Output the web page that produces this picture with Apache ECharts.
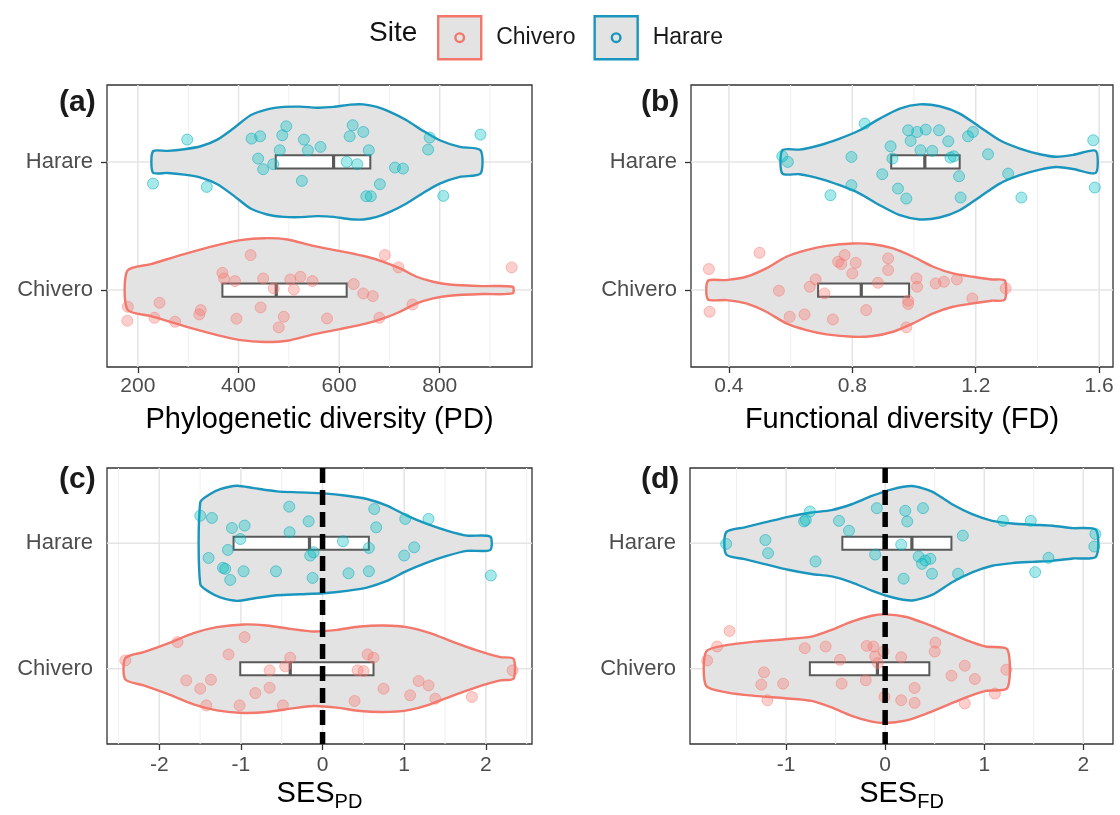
<!DOCTYPE html>
<html><head><meta charset="utf-8">
<script src="https://cdn.jsdelivr.net/npm/echarts@6.0.0/dist/echarts.min.js"></script>
<style>html,body{margin:0;padding:0;background:#fff}#chart{width:1120px;height:815px}</style>
</head><body><div id="chart"></div>
<script>
// ---------- categories ----------
const sites = ['Chivero', 'Harare'];
const siteY = { Chivero: 1, Harare: 2 };

// ---------- tick labels / gridlines ----------
const majA = [200, 400, 600, 800], minA = [300, 500, 700, 900];
const majB = [0.4, 0.8, 1.2, 1.6], minB = [0.6, 1.0, 1.4];
const majC = [-2, -1, 0, 1, 2], minC = [-2.5, -1.5, -0.5, 0.5, 1.5, 2.5];
const majD = [-1, 0, 1, 2], minD = [-1.5, -0.5, 0.5, 1.5];

// ---------- (a) Phylogenetic diversity ----------
const ptsA_C = [[424,1.273],[691,1.273],[943,1.177],[368,1.135],[371,1.091],[393,1.07],[449,1.091],[503,1.083],[523,1.104],[547,1.07],[510,1.005],[470,1.013],[629,1.047],[648,0.974],[667,0.953],[718,1.177],[180,0.87],[243,0.901],[325,0.844],[322,0.81],[179,0.761],[233,0.784],[274,0.753],[396,0.777],[444,0.865],[490,0.792],[480,0.709],[576,0.779],[680,0.784],[746,0.888]];
const ptsA_H = [[298,2.174],[230,1.831],[337,1.805],[426,2.182],[443,2.2],[439,2.026],[449,1.943],[469,1.982],[482,2.091],[487,2.208],[495,2.278],[530,2.174],[538,2.091],[563,2.117],[526,1.852],[621,2.2],[627,2.286],[648,2.234],[659,2.091],[615,2.0],[636,1.982],[681,1.826],[654,1.732],[663,1.732],[711,1.956],[727,1.948],[777,2.096],[780,2.19],[807,1.735],[881,2.213]];
const boxA_C = [368, 475, 615];
const boxA_H = [474, 589, 662];
const vioA_C = [[179,0.151],[226,0.203],[292,0.281],[358,0.351],[404,0.390],[451,0.405],[497,0.395],[549,0.345],[602,0.304],[655,0.260],[688,0.221],[721,0.169],[754,0.104],[787,0.065],[820,0.044],[886,0.031],[945,0.026]];
const vioA_H = [[230,0.083],[259,0.086],[292,0.099],[325,0.122],[358,0.174],[391,0.265],[424,0.364],[457,0.410],[490,0.429],[523,0.431],[556,0.423],[589,0.429],[622,0.447],[648,0.449],[675,0.429],[701,0.390],[734,0.325],[767,0.242],[800,0.169],[840,0.117],[881,0.091]];

// ---------- (b) Functional diversity ----------
const ptsB_C = [[0.499,1.291],[0.335,1.164],[0.337,0.831],[0.562,0.995],[0.597,0.792],[0.645,0.81],[0.681,1.083],[0.662,1.026],[0.710,0.974],[0.737,0.771],[0.754,1.221],[0.764,1.203],[0.775,1.273],[0.811,1.213],[0.800,1.13],[0.845,0.844],[0.883,1.057],[0.916,1.247],[0.916,1.156],[1.008,1.091],[1.010,1.026],[1.070,1.052],[1.097,1.065],[1.139,1.083],[1.189,0.935],[0.981,0.917],[0.981,0.891],[0.975,0.709],[1.297,1.013]];
const ptsB_H = [[0.840,2.299],[0.981,2.247],[1.010,2.234],[1.038,2.252],[1.081,2.247],[0.989,2.164],[0.924,2.122],[1.021,2.091],[1.059,2.086],[1.111,2.161],[1.175,2.2],[1.191,2.234],[1.581,2.169],[1.240,2.06],[0.573,2.044],[0.591,2.0],[0.797,2.039],[0.930,2.026],[1.118,2.034],[1.129,2.044],[1.146,1.888],[0.897,1.904],[0.797,1.818],[0.729,1.74],[0.948,1.792],[0.975,1.714],[1.151,1.722],[1.305,1.909],[1.348,1.722],[1.586,1.8]];
const boxB_C = [0.689, 0.829, 0.984];
const boxB_H = [0.926, 1.035, 1.148];
const vioB_C = [[0.332,0.072],[0.391,0.078],[0.456,0.104],[0.521,0.169],[0.586,0.26],[0.651,0.312],[0.716,0.345],[0.802,0.364],[0.867,0.358],[0.932,0.325],[0.997,0.26],[1.062,0.182],[1.126,0.13],[1.191,0.104],[1.251,0.083],[1.294,0.075]];
const vioB_H = [[0.573,0.091],[0.629,0.096],[0.694,0.13],[0.759,0.182],[0.824,0.247],[0.889,0.338],[0.954,0.416],[1.018,0.449],[1.083,0.434],[1.148,0.377],[1.213,0.273],[1.278,0.169],[1.343,0.104],[1.408,0.06],[1.462,0.04],[1.516,0.055],[1.589,0.086]];

// ---------- (c) SES PD ----------
const ptsC_C = [[-2.416,1.066],[-1.776,1.212],[-1.151,1.114],[-0.955,1.252],[-1.669,0.907],[-1.498,0.841],[-1.367,0.912],[-1.424,0.708],[-1.016,0.708],[-0.824,0.806],[-0.649,0.849],[-0.649,0.987],[-0.457,1.019],[-0.396,1.088],[-0.486,0.708],[0.392,0.743],[0.429,0.987],[0.502,0.981],[0.551,1.114],[0.624,1.088],[0.747,0.841],[1.073,0.788],[1.176,0.902],[1.298,0.867],[1.380,0.761],[1.829,0.775],[2.327,0.987]];
const ptsC_H = [[-1.498,2.22],[-1.355,2.202],[-1.110,2.122],[-0.955,2.141],[-1.008,2.034],[-1.159,1.947],[-1.396,1.883],[-1.220,1.804],[-1.192,1.796],[-1.131,1.708],[-0.967,1.777],[-0.571,1.777],[-0.408,2.292],[-0.404,2.088],[-0.171,2.175],[-0.151,1.902],[-0.110,1.928],[-0.122,1.724],[0.249,2.016],[0.318,1.761],[0.567,1.963],[0.567,1.777],[0.633,2.273],[0.657,2.127],[1.012,2.194],[1.298,2.194],[1.122,1.968],[1.0,1.902],[2.061,1.743]];
const boxC_C = [-1.008, -0.396, 0.624];
const boxC_H = [-1.09, -0.16, 0.567];
const vioC_C = [[-2.416,0.085],[-2.192,0.133],[-1.906,0.199],[-1.58,0.284],[-1.294,0.332],[-0.967,0.353],[-0.682,0.345],[-0.396,0.318],[-0.11,0.297],[0.176,0.31],[0.461,0.337],[0.747,0.345],[1.033,0.332],[1.318,0.284],[1.604,0.212],[1.89,0.146],[2.176,0.093],[2.339,0.078]];
const vioC_H = [[-1.498,0.326],[-1.376,0.393],[-1.253,0.432],[-1.049,0.459],[-0.845,0.44],[-0.559,0.414],[-0.273,0.406],[0.012,0.398],[0.298,0.379],[0.543,0.353],[0.788,0.3],[1.033,0.22],[1.278,0.154],[1.522,0.101],[1.767,0.061],[2.053,0.053]];

// ---------- (d) SES FD ----------
const ptsD_C = [[-1.571,1.301],[-1.696,1.177],[-1.797,1.066],[-1.223,0.971],[-1.25,0.873],[-1.189,0.749],[-1.030,0.881],[-0.811,1.164],[-0.601,1.177],[-0.456,1.071],[-0.439,0.881],[-0.196,0.908],[-0.186,1.182],[-0.118,1.177],[-0.101,1.098],[-0.074,1.045],[-0.017,1.137],[-0.007,0.776],[0.162,1.092],[0.162,0.749],[0.297,0.847],[0.297,0.728],[0.507,1.208],[0.5,1.137],[0.669,0.945],[0.804,1.024],[0.905,0.918],[0.804,0.723],[1.108,0.802],[1.223,0.992]];
const ptsD_H = [[-1.605,1.995],[-1.209,2.026],[-1.182,1.921],[-0.760,2.253],[-0.818,2.174],[-0.801,2.185],[-0.703,1.855],[-0.466,2.179],[-0.365,2.1],[-0.084,2.28],[-0.101,1.91],[0.162,1.989],[0.203,2.259],[0.223,2.174],[0.382,2.28],[0.338,1.894],[0.372,1.836],[0.405,1.863],[0.456,1.876],[0.473,1.757],[0.186,1.718],[0.736,1.757],[0.784,2.061],[1.189,2.179],[1.470,2.179],[1.649,1.884],[1.514,1.77],[2.122,2.074],[2.111,1.974]];
const boxD_C = [-0.760, -0.078, 0.446];
const boxD_H = [-0.432, 0.270, 0.669];
const vioD_C = [[-1.807,0.137],[-1.588,0.19],[-1.318,0.216],[-1.014,0.235],[-0.743,0.256],[-0.541,0.309],[-0.338,0.375],[-0.135,0.422],[0,0.433],[0.203,0.414],[0.405,0.361],[0.608,0.296],[0.811,0.23],[1.014,0.177],[1.233,0.155]];
const vioD_H = [[-1.605,0.088],[-1.419,0.127],[-1.216,0.166],[-0.98,0.211],[-0.743,0.245],[-0.541,0.264],[-0.338,0.311],[-0.135,0.377],[0.068,0.43],[0.27,0.456],[0.473,0.412],[0.676,0.311],[0.878,0.232],[1.081,0.179],[1.284,0.158],[1.486,0.148],[1.689,0.14],[1.892,0.121],[2.128,0.107]];

// ---------- styling ----------
const FONT = '"Liberation Sans", Arial, Helvetica, sans-serif';
const pointColor = { Chivero: 'rgba(248,118,109,0.35)', Harare: 'rgba(0,191,196,0.35)' };
const pointBorder = { Chivero: 'rgba(248,118,109,0.45)', Harare: 'rgba(0,170,190,0.5)' };
const lineColor = { Chivero: '#f3776b', Harare: '#1a95bd' };
const VIO_FILL = '#e3e3e3';

const panels = [
  { tag: '(a)', grid: { left: 107, top: 85, width: 425, height: 282 }, xMin: 138.6, xMax: 983.4, majors: majA, minors: minA,
    name: 'Phylogenetic diversity (PD)', zero: false,
    vio: { Chivero: vioA_C, Harare: vioA_H }, box: { Chivero: boxA_C, Harare: boxA_H }, pts: { Chivero: ptsA_C, Harare: ptsA_H } },
  { tag: '(b)', grid: { left: 691, top: 85, width: 422, height: 282 }, xMin: 0.277, xMax: 1.645, majors: majB, minors: minB,
    name: 'Functional diversity (FD)', zero: false,
    vio: { Chivero: vioB_C, Harare: vioB_H }, box: { Chivero: boxB_C, Harare: boxB_H }, pts: { Chivero: ptsB_C, Harare: ptsB_H } },
  { tag: '(c)', grid: { left: 107, top: 468, width: 425, height: 276 }, xMin: -2.64, xMax: 2.565, majors: majC, minors: minC,
    name: '{a|SES}{b|PD}', zero: true,
    vio: { Chivero: vioC_C, Harare: vioC_H }, box: { Chivero: boxC_C, Harare: boxC_H }, pts: { Chivero: ptsC_C, Harare: ptsC_H } },
  { tag: '(d)', grid: { left: 690, top: 468, width: 423, height: 276 }, xMin: -1.97, xMax: 2.30, majors: majD, minors: minD,
    name: '{a|SES}{b|FD}', zero: true,
    vio: { Chivero: vioD_C, Harare: vioD_H }, box: { Chivero: boxD_C, Harare: boxD_H }, pts: { Chivero: ptsD_C, Harare: ptsD_H } }
];

function gridLineItem(params, api) {
  const cs = params.coordSys;
  const kind = api.value(0), v = api.value(1), major = api.value(2);
  const st = { stroke: major ? '#e4e4e4' : '#f0f0f0', lineWidth: major ? 1.5 : 1 };
  if (kind === 0) {
    const x = api.coord([v, 1])[0];
    return { type: 'line', shape: { x1: x, y1: cs.y, x2: x, y2: cs.y + cs.height }, style: st };
  }
  const y = api.coord([0, v])[1];
  return { type: 'line', shape: { x1: cs.x, y1: y, x2: cs.x + cs.width, y2: y }, style: st };
}

function violinItem(arr, c, color) {
  return function (params, api) {
    if (params.dataIndex !== 0) return null;
    const upper = arr.map(d => api.coord([d[0], c + d[1]]));
    const lower = arr.slice().reverse().map(d => api.coord([d[0], c - d[1]]));
    return { type: 'polygon', shape: { points: upper.concat(lower), smooth: 0.25 },
      style: { fill: VIO_FILL, stroke: color, lineWidth: 2.4, lineJoin: 'round' } };
  };
}

function boxItem(params, api) {
  const q1 = api.value(0), med = api.value(1), q3 = api.value(2), c = api.value(3);
  const h = 0.052;
  const p1 = api.coord([q1, c + h]), p2 = api.coord([q3, c - h]);
  const m1 = api.coord([med, c + h]), m2 = api.coord([med, c - h]);
  return { type: 'group', children: [
    { type: 'rect', shape: { x: p1[0], y: p1[1], width: p2[0] - p1[0], height: p2[1] - p1[1] },
      style: { fill: '#ffffff', stroke: '#595959', lineWidth: 2 } },
    { type: 'line', shape: { x1: m1[0], y1: m1[1], x2: m2[0], y2: m2[1] },
      style: { stroke: '#595959', lineWidth: 3.2 } }
  ] };
}

function zeroItem(params, api) {
  const cs = params.coordSys;
  const x = api.coord([api.value(0), 1.5])[0];
  return { type: 'line', shape: { x1: x, y1: cs.y, x2: x, y2: cs.y + cs.height },
    style: { stroke: '#000', lineWidth: 5.5, lineDash: [15, 7] } };
}

const grids = [], xAxes = [], yAxes = [], series = [];
panels.forEach((p, i) => {
  grids.push(Object.assign({ show: true, backgroundColor: '#fff', borderColor: '#333', borderWidth: 1.3,
    containLabel: false, outerBoundsMode: 'none' }, p.grid));
  xAxes.push({
    type: 'value', gridIndex: i, min: p.xMin, max: p.xMax,
    axisLine: { show: false }, splitLine: { show: false },
    axisTick: { show: true, customValues: p.majors, length: 6, lineStyle: { color: '#333', width: 1.3 } },
    axisLabel: { customValues: p.majors, fontSize: 21, color: '#4d4d4d', margin: p.zero ? 11 : 9, fontFamily: FONT },
    name: p.name, nameLocation: 'middle', nameGap: p.zero ? 32 : 38,
    nameTextStyle: { fontSize: 29, color: '#000', fontFamily: FONT,
      rich: { a: { fontSize: 29, color: '#000', fontFamily: FONT },
              b: { fontSize: 20, color: '#000', fontFamily: FONT, padding: [16, 0, 0, 0] } } }
  });
  yAxes.push({
    type: 'value', gridIndex: i, min: 0.4, max: 2.6,
    axisLine: { show: false }, splitLine: { show: false },
    axisTick: { show: true, customValues: [1, 2], length: 6, lineStyle: { color: '#333', width: 1.3 } },
    axisLabel: { customValues: [1, 2], fontSize: 22, color: '#4d4d4d', margin: 14, fontFamily: FONT,
      formatter: v => sites[Math.round(v) - 1] }
  });
  const gl = p.majors.map(v => [0, v, 1]).concat(p.minors.map(v => [0, v, 0])).concat([[1, 1, 1], [1, 2, 1]]);
  series.push({ type: 'custom', name: 'grid' + i, xAxisIndex: i, yAxisIndex: i, z: 1, silent: true,
    renderItem: gridLineItem, data: gl });
  sites.forEach(s => {
    series.push({ type: 'custom', name: s, xAxisIndex: i, yAxisIndex: i, z: 2, silent: true,
      renderItem: violinItem(p.vio[s], siteY[s], lineColor[s]),
      data: p.vio[s].map(d => [d[0], siteY[s]]) });
  });
  series.push({ type: 'custom', name: 'box' + i, xAxisIndex: i, yAxisIndex: i, z: 3, silent: true,
    renderItem: boxItem, encode: { x: [0, 1, 2], y: 3 },
    data: sites.map(s => p.box[s].concat([siteY[s]])) });
  sites.forEach(s => {
    series.push({ type: 'scatter', name: s, xAxisIndex: i, yAxisIndex: i, z: 4, silent: true,
      symbol: 'circle', symbolSize: 11,
      itemStyle: { color: pointColor[s], borderColor: pointBorder[s], borderWidth: 1, opacity: 1 },
      data: p.pts[s] });
  });
  if (p.zero) {
    series.push({ type: 'custom', name: 'zero' + i, xAxisIndex: i, yAxisIndex: i, z: 5, silent: true,
      renderItem: zeroItem, data: [[0, 1.5]] });
  }
});

const keyIcon = 'path://M0 0H40V40H0Z M20 16A4 4 0 1 1 20 24A4 4 0 1 1 20 16Z';

const option = {
  backgroundColor: '#fff',
  animation: false,
  textStyle: { fontFamily: FONT },
  title: [
    { text: 'Site', left: 364, top: 14, textStyle: { fontSize: 28, fontWeight: 'normal', color: '#111', fontFamily: FONT } },
    { text: '(a)', left: 54, top: 83, textStyle: { fontSize: 30, fontWeight: 'bold', color: '#1a1a1a', fontFamily: FONT } },
    { text: '(b)', left: 636, top: 83, textStyle: { fontSize: 30, fontWeight: 'bold', color: '#1a1a1a', fontFamily: FONT } },
    { text: '(c)', left: 54, top: 460, textStyle: { fontSize: 30, fontWeight: 'bold', color: '#1a1a1a', fontFamily: FONT } },
    { text: '(d)', left: 636, top: 460, textStyle: { fontSize: 30, fontWeight: 'bold', color: '#1a1a1a', fontFamily: FONT } }
  ],
  legend: {
    left: 432, top: 10, orient: 'horizontal', selectedMode: false,
    itemWidth: 43, itemHeight: 43, itemGap: 18,
    textStyle: { fontSize: 23, color: '#1a1a1a', fontFamily: FONT, padding: [0, 0, 0, 10] },
    data: sites.map(s => ({ name: s, icon: keyIcon,
      itemStyle: { color: VIO_FILL, borderColor: lineColor[s], borderWidth: 2.4 } }))
  },
  grid: grids, xAxis: xAxes, yAxis: yAxes, series: series
};

const chart = echarts.init(document.getElementById('chart'), null, { renderer: 'canvas' });
chart.setOption(option);
</script></body></html>
